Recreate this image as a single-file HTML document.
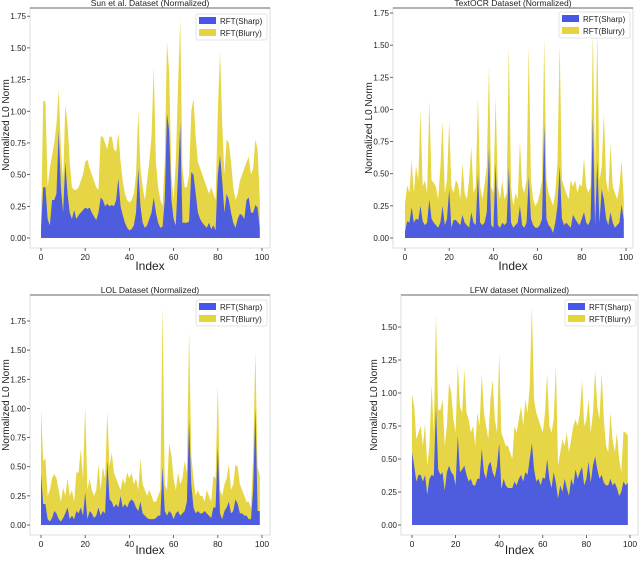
<!DOCTYPE html>
<html><head><meta charset="utf-8"><style>
html,body{margin:0;padding:0;background:#fff;}
svg text{font-family:"Liberation Sans","DejaVu Sans",sans-serif;fill:#222;}
</style></head><body>
<svg id="fig" width="640" height="556" viewBox="0 0 640 556" xmlns="http://www.w3.org/2000/svg"></svg>
<script>
const titles=["Sun et al. Dataset (Normalized)","TextOCR Dataset (Normalized)","LOL Dataset (Normalized)","LFW dataset (Normalized)"];
const seriesNames=["RFT(Sharp)","RFT(Blurry)"];
const yTicks1=[0,0.25,0.5,0.75,1.0,1.25,1.5,1.75];
const yTicks4=[0,0.25,0.5,0.75,1.0,1.25,1.5];
const xTicks=[0,20,40,60,80,100];
const sunBlurry=[0.1,1.08,1.08,0.4,0.55,0.65,0.75,0.9,1.17,0.7,0.45,1.05,0.9,0.6,0.4,0.38,0.38,0.4,0.45,0.5,0.6,0.62,0.55,0.5,0.45,0.4,0.38,0.8,0.8,0.75,0.7,0.8,0.8,0.7,0.68,0.83,0.6,0.45,0.35,0.3,0.28,0.3,0.35,0.5,1.0,0.55,0.4,0.3,0.45,0.6,0.8,1.35,0.6,0.4,0.3,0.25,0.6,1.55,1.3,0.5,0.3,0.6,1.2,1.72,0.55,0.4,0.4,0.5,1.0,1.1,0.8,0.6,0.55,0.5,0.45,0.4,0.35,0.4,0.35,0.3,1.0,1.47,0.9,0.5,0.78,0.75,0.6,0.4,0.3,0.35,0.45,0.5,0.55,0.6,0.64,0.5,0.55,0.78,0.7,0.3];
const sunSharp=[0.07,0.4,0.4,0.15,0.1,0.3,0.3,0.35,0.85,0.4,0.2,0.6,0.35,0.2,0.15,0.22,0.15,0.18,0.2,0.22,0.24,0.23,0.24,0.2,0.17,0.14,0.2,0.32,0.3,0.25,0.27,0.25,0.26,0.25,0.3,0.47,0.25,0.18,0.12,0.08,0.06,0.07,0.1,0.2,0.55,0.25,0.12,0.08,0.1,0.15,0.2,0.32,0.2,0.12,0.08,0.09,0.3,0.98,0.85,0.3,0.15,0.1,0.5,0.9,0.12,0.12,0.12,0.13,0.52,0.5,0.35,0.2,0.15,0.12,0.1,0.08,0.12,0.07,0.1,0.06,0.5,0.65,0.45,0.2,0.35,0.3,0.2,0.12,0.08,0.15,0.19,0.18,0.15,0.3,0.32,0.2,0.2,0.26,0.24,0.08];
const ocrBlurry=[0.27,0.41,0.35,0.61,0.35,0.56,0.45,0.99,0.40,0.45,0.35,1.07,0.45,0.43,0.40,0.30,0.55,0.91,0.35,0.45,0.91,0.40,0.35,0.45,0.42,0.30,0.58,0.35,0.30,0.45,0.71,0.35,0.40,1.09,0.40,0.30,0.42,0.55,1.34,0.40,0.35,1.09,0.40,0.30,0.45,0.30,0.35,1.50,0.40,0.25,0.35,0.30,0.75,0.40,0.35,0.45,1.49,0.45,0.30,0.25,0.28,0.35,0.45,1.55,0.45,0.35,0.30,0.25,0.35,0.60,1.51,0.45,0.40,0.35,0.30,0.45,0.40,0.45,0.35,0.42,0.40,0.62,0.40,0.35,0.40,1.60,0.50,1.60,0.45,0.55,0.97,0.45,0.35,0.73,0.40,0.35,0.30,0.40,0.60,0.30];
const ocrSharp=[0.05,0.13,0.12,0.24,0.12,0.15,0.14,0.25,0.13,0.10,0.12,0.30,0.15,0.12,0.10,0.08,0.12,0.25,0.10,0.15,0.38,0.08,0.14,0.14,0.12,0.10,0.18,0.12,0.10,0.08,0.20,0.12,0.10,0.50,0.12,0.10,0.12,0.20,0.70,0.10,0.08,0.58,0.10,0.08,0.12,0.10,0.12,0.55,0.12,0.08,0.10,0.12,0.25,0.10,0.08,0.12,0.48,0.15,0.10,0.08,0.08,0.10,0.15,0.88,0.15,0.10,0.08,0.04,0.12,0.25,0.56,0.15,0.10,0.12,0.10,0.08,0.18,0.15,0.12,0.10,0.15,0.20,0.12,0.10,0.15,0.95,0.10,0.60,0.12,0.38,0.30,0.15,0.10,0.20,0.12,0.08,0.10,0.12,0.26,0.14];
const lolBlurry=[1.00,0.55,0.57,0.25,0.30,0.40,0.44,0.40,0.30,0.20,0.32,0.25,0.40,0.25,0.30,0.20,0.45,0.45,0.65,0.40,1.02,0.30,0.40,0.30,0.25,0.30,0.52,0.30,0.50,0.40,0.97,0.50,0.62,0.45,0.40,0.35,0.30,0.40,0.35,0.45,0.40,0.45,0.35,0.40,0.30,0.57,0.35,0.30,0.25,0.30,0.25,0.20,0.20,0.25,0.30,1.88,0.35,0.30,0.70,0.60,0.40,0.30,0.45,0.35,0.40,0.55,0.45,1.67,0.60,0.40,0.25,0.30,0.25,0.25,0.20,0.30,0.25,0.20,0.42,0.40,1.20,0.30,0.25,0.35,0.40,0.52,0.30,0.35,0.52,0.50,0.35,0.30,0.25,0.20,0.20,0.15,0.60,1.49,0.50,0.42];
const lolSharp=[0.44,0.18,0.18,0.05,0.03,0.06,0.12,0.10,0.05,0.03,0.06,0.10,0.15,0.05,0.08,0.05,0.12,0.10,0.15,0.08,0.28,0.05,0.12,0.10,0.06,0.08,0.15,0.08,0.12,0.10,0.55,0.22,0.20,0.15,0.18,0.15,0.25,0.15,0.18,0.15,0.20,0.22,0.20,0.15,0.12,0.20,0.10,0.08,0.06,0.05,0.05,0.05,0.06,0.08,0.08,0.50,0.12,0.08,0.12,0.10,0.05,0.10,0.12,0.08,0.10,0.12,0.20,0.90,0.35,0.15,0.10,0.12,0.10,0.10,0.12,0.10,0.08,0.06,0.15,0.15,0.68,0.10,0.05,0.12,0.15,0.20,0.10,0.12,0.22,0.18,0.10,0.10,0.08,0.08,0.05,0.05,0.30,1.00,0.12,0.12];
const lfwBlurry=[0.99,0.90,0.65,0.70,0.75,0.60,0.77,0.45,0.60,1.06,0.70,1.60,0.87,0.87,0.95,0.60,0.75,1.08,1.00,0.80,0.70,1.22,0.90,0.85,1.18,0.85,0.80,0.70,0.75,0.60,0.85,0.75,1.15,0.85,0.75,0.65,0.95,1.10,0.80,0.70,1.30,0.70,0.65,0.60,0.60,0.55,0.50,0.75,0.70,0.80,0.90,0.75,0.95,0.85,1.05,1.66,0.95,0.85,0.80,0.75,0.70,0.85,1.15,0.75,0.70,0.80,1.21,0.45,0.55,0.65,0.60,0.70,0.55,0.65,0.75,0.80,0.75,0.85,1.10,0.75,0.80,0.95,0.70,0.85,1.17,0.90,0.80,1.15,0.80,0.60,0.55,0.85,0.65,0.55,0.70,0.50,0.40,0.71,0.70,0.68];
const lfwSharp=[0.55,0.45,0.33,0.38,0.38,0.33,0.38,0.23,0.35,0.38,0.37,0.90,0.42,0.38,0.40,0.26,0.40,0.45,0.40,0.38,0.30,0.68,0.40,0.42,0.45,0.38,0.33,0.35,0.30,0.30,0.35,0.35,0.58,0.40,0.35,0.45,0.48,0.40,0.36,0.45,0.62,0.27,0.35,0.30,0.28,0.28,0.28,0.33,0.30,0.35,0.38,0.33,0.40,0.38,0.50,0.62,0.42,0.33,0.35,0.30,0.36,0.35,0.50,0.35,0.28,0.40,0.32,0.20,0.30,0.25,0.35,0.28,0.22,0.35,0.30,0.42,0.35,0.40,0.44,0.30,0.35,0.48,0.32,0.45,0.52,0.42,0.35,0.38,0.32,0.30,0.30,0.35,0.30,0.32,0.28,0.22,0.25,0.33,0.30,0.32];

const panels=[
 {id:"sun",sharp:sunSharp,blurry:sunBlurry,ticks:yTicks1,L:30,R:270,T:8,B:248,x0:41,x1:262,y0:238,yTop:16.2,vTop:1.75,ylx:9,yly:125,xly:270,lg:[196,14]},
 {id:"textocr",sharp:ocrSharp,blurry:ocrBlurry,ticks:yTicks1,L:393,R:633,T:8,B:248,x0:405,x1:626,y0:238,yTop:13,vTop:1.75,ylx:372,yly:128,xly:270,lg:[559,12]},
 {id:"lol",sharp:lolSharp,blurry:lolBlurry,ticks:yTicks1,L:30,R:270,T:295,B:535,x0:41,x1:262,y0:525,yTop:321,vTop:1.75,ylx:9,yly:405,xly:554,lg:[196,300]},
 {id:"lfw",sharp:lfwSharp,blurry:lfwBlurry,ticks:yTicks4,L:401,R:638,T:295,B:535,x0:412,x1:630,y0:525,yTop:327,vTop:1.5,ylx:377,yly:405,xly:554,lg:[565,300]}
];
const NS="http://www.w3.org/2000/svg";
const svg=document.getElementById('fig');
function mk(tag,attrs,parent,txt){const e=document.createElementNS(NS,tag);for(const k in attrs)e.setAttribute(k,attrs[k]);if(txt!==undefined)e.textContent=txt;(parent||svg).appendChild(e);return e;}
const YEL="#e5d43b",BLU="#4656e6";
panels.forEach((p,pi)=>{
  const g=mk('g',{});
  
  
  const xs=i=>p.x0+(p.x1-p.x0)*i/100;
  const ys=v=>p.y0-(p.y0-p.yTop)*v/p.vTop;
  const frame=mk('rect',{x:p.L,y:p.T,width:p.R-p.L,height:p.B-p.T,fill:'none',stroke:'#ddd','stroke-width':1},g);
  
  
  const top=mk('line',{x1:p.L,x2:p.R,y1:p.T,y2:p.T,stroke:'#999','stroke-width':1.5},g);
  
  
  const title=mk('text',{x:(p.L+p.R)/2,y:p.T-2,'text-anchor':'middle','font-size':8.5},g,titles[pi]);
  
  
  function area(arr,color,name){
    let d='M'+xs(0)+','+ys(0);
    arr.forEach((v,i)=>{d+=' L'+xs(i).toFixed(2)+','+ys(v).toFixed(2);});
    d+=' L'+xs(arr.length-1)+','+ys(0)+' Z';
    const a=mk('path',{d:d,fill:color,'fill-opacity':0.95},g);
    
    
  }
  area(p.blurry,YEL,'area-blurry');
  area(p.sharp,BLU,'area-sharp');
  p.ticks.forEach(t=>{
    const y=ys(t);
    mk('line',{x1:p.L-3,x2:p.L,y1:y,y2:y,stroke:'#444','stroke-width':0.8},g);
    const tl=mk('text',{x:p.L-4,y:y+3,'text-anchor':'end','font-size':8},g,t.toFixed(2));
    
    
  });
  xTicks.forEach(t=>{
    const x=xs(t);
    mk('line',{x1:x,x2:x,y1:p.B,y2:p.B+3,stroke:'#444','stroke-width':0.8},g);
    const tl=mk('text',{x:x,y:p.B+12,'text-anchor':'middle','font-size':8.5},g,String(t));
    
    
  });
  const xl=mk('text',{x:(p.L+p.R)/2,y:p.xly,'text-anchor':'middle','font-size':12},g,'Index');
  
  
  const yl=mk('text',{x:0,y:0,'text-anchor':'middle','font-size':10,transform:'translate('+p.ylx+','+p.yly+') rotate(-90)'},g,'Normalized L0 Norm');
  
  
  const lg=mk('g',{},g);
  
  
  const [lx,ly]=p.lg;
  mk('rect',{x:lx,y:ly,width:71,height:26,fill:'#fff',stroke:'#ddd','stroke-width':0.8,rx:2},lg);
  [BLU,YEL].forEach((c,k)=>{
    const e=mk('g',{},lg);
    
    
    mk('rect',{x:lx+3,y:ly+3+k*12,width:17,height:7,fill:c},e);
    mk('text',{x:lx+24,y:ly+10+k*12,'font-size':8},e,seriesNames[k]);
  });
});
</script>
</body></html>
